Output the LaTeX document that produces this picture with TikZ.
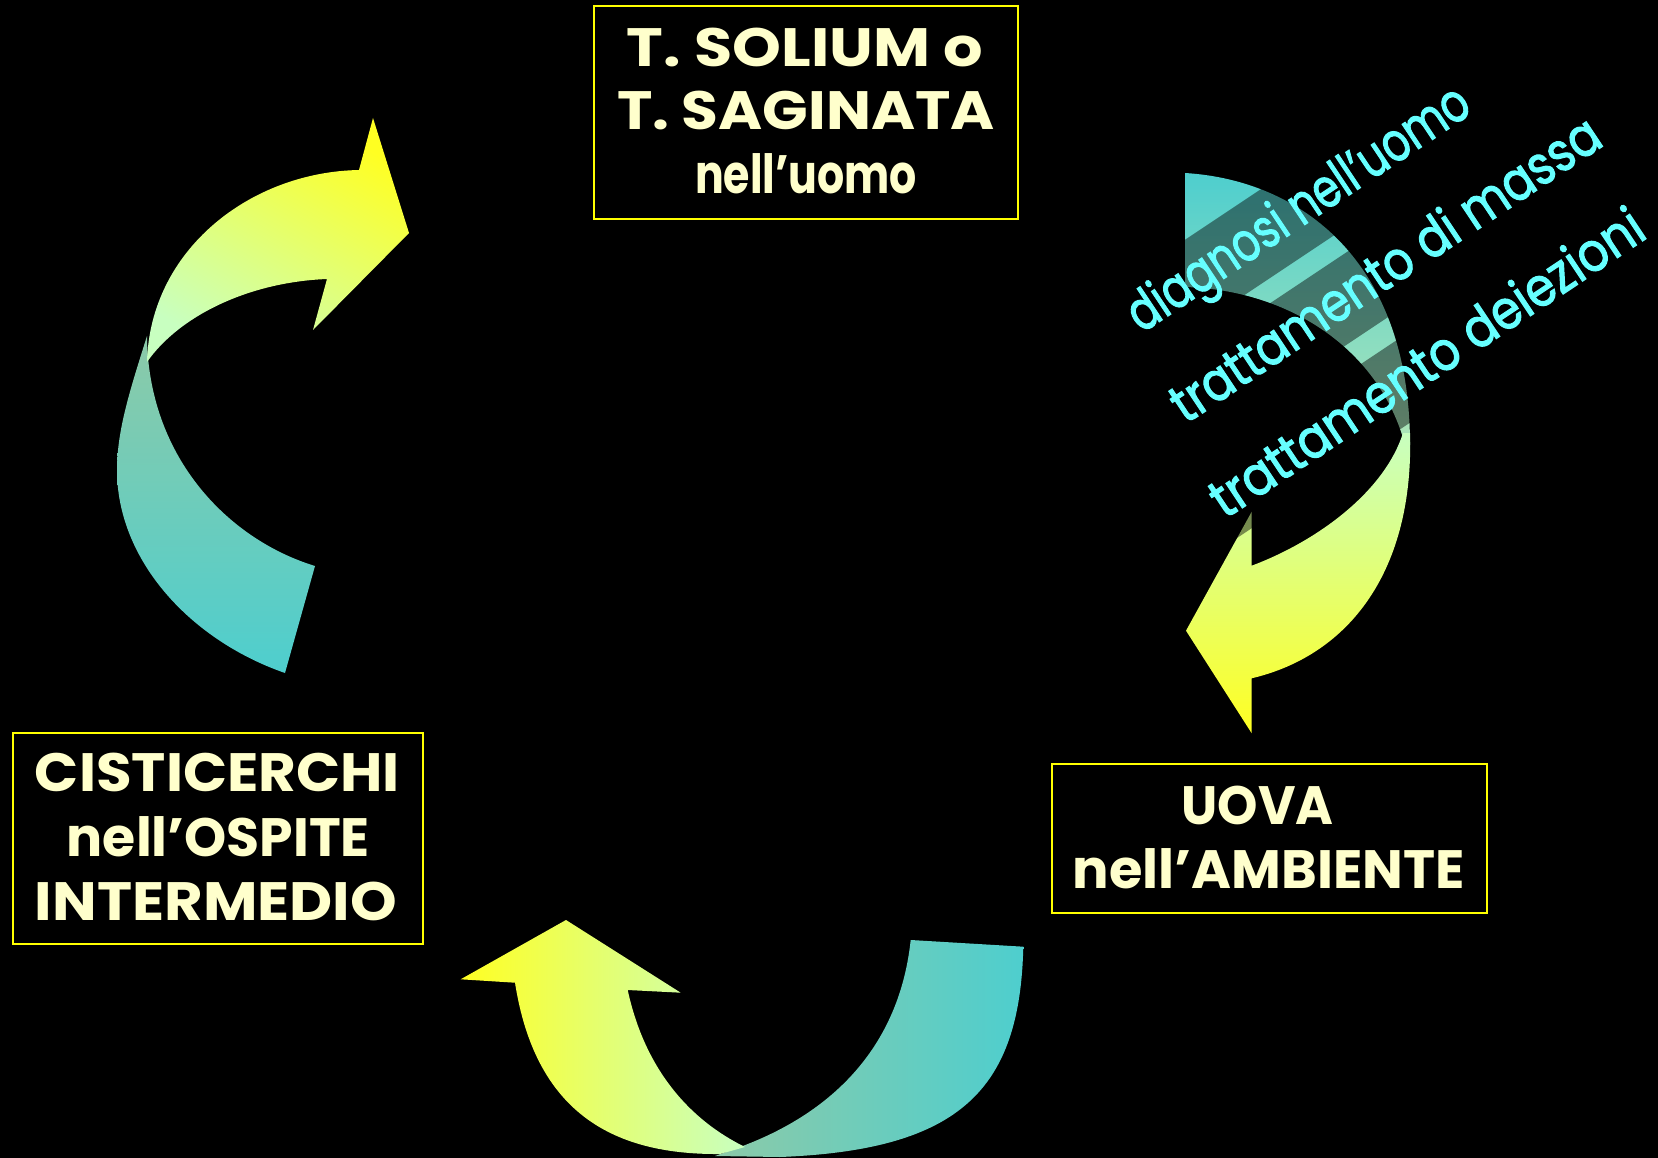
\documentclass[tikz,border=0pt]{standalone}
\usepackage{fontspec}
\newfontfamily\comic{Poppins}
\newfontfamily\comicmed{Poppins}[FakeBold=2]
\definecolor{boxtext}{HTML}{FFFFCC}
\definecolor{cyantext}{HTML}{66FFFF}
\definecolor{frameyel}{HTML}{FFFF00}
\definecolor{yel}{HTML}{FFFF22}
\definecolor{pale}{HTML}{C8FFC0}
\definecolor{tealA}{HTML}{4ECECE}
\definecolor{tealB}{HTML}{8CCAA8}
\definecolor{tealC}{HTML}{B0E6B8}
\newcommand\fitto[2]{\resizebox{#1pt}{\height}{#2}}
\begin{document}
\begin{tikzpicture}[x=1pt,y=-1pt,
  box/.style={draw=frameyel, line width=2pt, inner sep=0pt, outer sep=0pt, rectangle},
  boxtxt/.style={text=boxtext, anchor=base, inner sep=0pt, font=\comic\bfseries\fontsize{54}{60}\selectfont},
  cyantxt/.style={text=cyantext, anchor=base, inner sep=0pt, transform shape, font=\comicmed\fontsize{54}{60}\selectfont},
  stripe/.style={fill=black, fill opacity=0.45}]
\useasboundingbox (0,0) rectangle (1658,1158);
\fill[black] (0,0) rectangle (1658,1158);

% ---------- left arrow ----------
\path[top color=tealB, bottom color=tealA]
  (147,336) .. controls (130,390) and (117,430) .. (117,470)
  .. controls (117,560) and (190,640) .. (285,673) -- (315,566)
  .. controls (230,540) and (150,460) .. (147,340) -- cycle;
\path[top color=yel, bottom color=pale, shading angle=-30]
  (147,362) .. controls (150,250) and (250,172) .. (359,170)
  -- (373,118) -- (409,233) -- (313,330) -- (327,279)
  .. controls (250,282) and (180,315) .. (147,362) -- cycle;

% ---------- bottom arrow ----------
\path[left color=tealB, right color=tealA]
  (910.7,940) -- (1023.3,946.7)
  .. controls (1020,1090) and (960,1150) .. (780,1157) -- (715,1156) -- (740,1147)
  .. controls (840,1110) and (900,1040) .. (910.7,940) -- cycle;
\path[left color=yel, right color=pale]
  (566,920) -- (680.7,992.7) -- (627.7,990)
  .. controls (645,1070) and (690,1120) .. (745,1147) -- (720,1154)
  .. controls (610,1155) and (535,1110) .. (515,982.7) -- (460.7,979.3) -- cycle;

% ---------- right arrow ----------
\path[top color=tealA, bottom color=tealC]
  (1185,173) .. controls (1300,180) and (1410,260) .. (1410,445) -- (1405,445)
  .. controls (1380,350) and (1290,290) .. (1185,287) -- cycle;
\path[top color=pale, bottom color=yel]
  (1403,433) .. controls (1385,490) and (1320,540) .. (1251.7,565.7)
  -- (1251.7,511.7) -- (1186,630.7) -- (1251.7,733.3) -- (1251.7,678.3)
  .. controls (1350,655) and (1414,570) .. (1410,433) -- cycle;

\begin{scope}[rotate=33.7]
  \fill[stripe] (755,857) rectangle (1175,936);
  \fill[stripe] (745,957) rectangle (1262,1034);
  \fill[stripe] (725,1058) rectangle (1240,1134);
  \node[cyantxt] (c1) at (964.5,911) {\fitto{400}{diagnosi nell’uomo}};
  \node[cyantxt] (c2) at (1003.3,1011) {\fitto{505}{trattamento di massa}};
  \node[cyantxt] (c3) at (985.8,1112) {\fitto{510}{trattamento deiezioni}};
\end{scope}

% ---------- boxes ----------
\node[box, minimum width=424pt, minimum height=213pt] (topbox) at (806,112.5) {};
\node[boxtxt] (t1) at (805,66.7) {\fitto{356}{T. SOLIUM o}};
\node[boxtxt] (t2) at (806,130) {\fitto{378}{T. SAGINATA}};
\node[boxtxt] (t3) at (806,193.3) {\fitto{222}{nell’uomo}};

\node[box, minimum width=409.4pt, minimum height=211.6pt] (leftbox) at (218,838.5) {};
\node[boxtxt] (l1) at (217.5,791.7) {\fitto{365}{CISTICERCHI}};
\node[boxtxt] (l2) at (218.3,856.7) {\fitto{303}{nell’OSPITE}};
\node[boxtxt] (l3) at (216,920) {\fitto{362}{INTERMEDIO}};

\node[box, minimum width=435pt, minimum height=149.3pt] (rightbox) at (1269.2,838.7) {};
\node[boxtxt] (r1) at (1257.5,824) {\fitto{152}{UOVA}};
\node[boxtxt] (r2) at (1269,888.3) {\fitto{392}{nell’AMBIENTE}};
\end{tikzpicture}
\end{document}
